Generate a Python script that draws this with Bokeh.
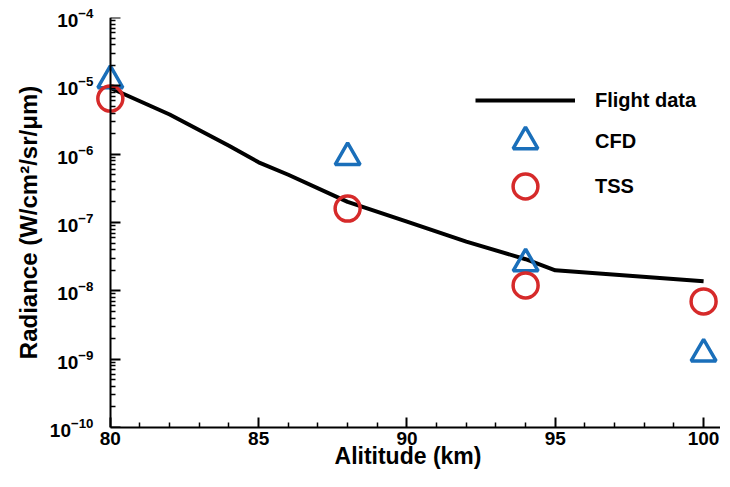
from bokeh.plotting import figure
from bokeh.models import (FixedTicker, Legend, LegendItem, Range1d, LogAxis,
                          CustomJSTickFormatter)
from bokeh.embed import file_html
from bokeh.resources import INLINE

# Flight data (line)
flight_alt = [80, 82, 84, 85, 86, 88, 90, 92, 94, 95, 100]
flight_rad = [9.3e-6, 3.8e-6, 1.33e-6, 7.6e-7, 5.0e-7, 2.0e-7, 1.03e-7, 5.25e-8, 2.9e-8, 2.0e-8, 1.38e-8]

# CFD (triangles)
cfd_alt = [80, 88, 94, 100]
cfd_rad = [1.2e-5, 9.0e-7, 2.5e-8, 1.2e-9]

# TSS (circles)
tss_alt = [80, 88, 94, 100]
tss_rad = [6.5e-6, 1.6e-7, 1.2e-8, 7.0e-9]

x_major = [80, 85, 90, 95, 100]
x_minor = [v for v in range(81, 101) if v not in x_major]
y_major = [10.0 ** e for e in range(-10, -3)]
y_minor = [m * 10.0 ** e for e in range(-10, -4) for m in range(2, 10)]

FONT = "Liberation Sans"
X_START, X_END = 79.5, 100.57

p = figure(width=720, height=471, y_axis_type="log",
           x_range=Range1d(X_START, X_END), y_range=Range1d(1e-10, 1e-4),
           output_backend="svg", toolbar_location=None,
           min_border_left=95, min_border_right=0, min_border_top=17, min_border_bottom=40)
p.outline_line_color = None
p.grid.visible = False
p.background_fill_color = "white"
p.border_fill_color = "white"

line_r = p.line(flight_alt, flight_rad, line_color="black", line_width=4)
cfd_r = p.scatter(cfd_alt, cfd_rad, marker="triangle", size=25, fill_color=None,
                  line_color="#1a6fba", line_width=3.5)
tss_r = p.scatter(tss_alt, tss_rad, marker="circle", size=25, fill_color=None,
                  line_color="#d62a2a", line_width=3.5)

def style_ticks(ax):
    ax.axis_line_width = 2
    ax.major_tick_line_width = 2
    ax.minor_tick_line_width = 1.5
    ax.major_tick_in = 10
    ax.major_tick_out = 0
    ax.minor_tick_in = 5
    ax.minor_tick_out = 0

def style_text(ax, tick_size, label_size):
    ax.major_label_text_font = FONT
    ax.major_label_text_font_style = "bold"
    ax.major_label_text_color = "black"
    ax.major_label_text_font_size = tick_size
    ax.axis_label_text_font = FONT
    ax.axis_label_text_font_style = "bold"
    ax.axis_label_text_color = "black"
    ax.axis_label_text_font_size = label_size

# x axis
xax = p.xaxis[0]
style_ticks(xax)
style_text(xax, "19px", "23px")
xax.ticker = FixedTicker(ticks=x_major, minor_ticks=x_minor)
xax.bounds = (x_major[0], X_END)
xax.axis_label = "Alititude (km)"
xax.major_label_standoff = 4
xax.axis_label_standoff = -5

# y axis line + ticks, placed at x = 80
yax = p.yaxis[0]
style_ticks(yax)
yax.fixed_location = x_major[0]
yax.ticker = FixedTicker(ticks=y_major, minor_ticks=y_minor)
yax.formatter = CustomJSTickFormatter(code="return ''")
yax.major_label_standoff = 0

# y axis labels only
ylab = LogAxis(ticker=FixedTicker(ticks=y_major, minor_ticks=[]))
ylab.axis_line_color = None
ylab.major_tick_line_color = None
ylab.minor_tick_line_color = None
ylab.major_tick_in = 0
ylab.major_tick_out = 0
ylab.minor_tick_in = 0
ylab.minor_tick_out = 0
style_text(ylab, "19px", "24px")
ylab.axis_label = "Radiance (W/cm²/sr/μm)"
ylab.major_label_standoff = 2
ylab.axis_label_standoff = 5
p.add_layout(ylab, "left")

items = [("Flight data", line_r, 99), ("CFD", cfd_r, 140), ("TSS", tss_r, 185)]
FRAME_BOTTOM = 426
for label, rend, cy in items:
    lg = Legend(items=[LegendItem(label=label, renderers=[rend])],
                location=(380, FRAME_BOTTOM - (cy + 31)))
    lg.glyph_width = 100
    lg.glyph_height = 62
    lg.padding = 0
    lg.margin = 0
    lg.spacing = 0
    lg.label_standoff = 20
    lg.border_line_color = None
    lg.background_fill_alpha = 0
    lg.label_text_font = FONT
    lg.label_text_font_style = "bold"
    lg.label_text_font_size = "20px"
    lg.label_text_color = "black"
    p.add_layout(lg, "center")

open("out.html", "w").write(file_html(p, INLINE))
